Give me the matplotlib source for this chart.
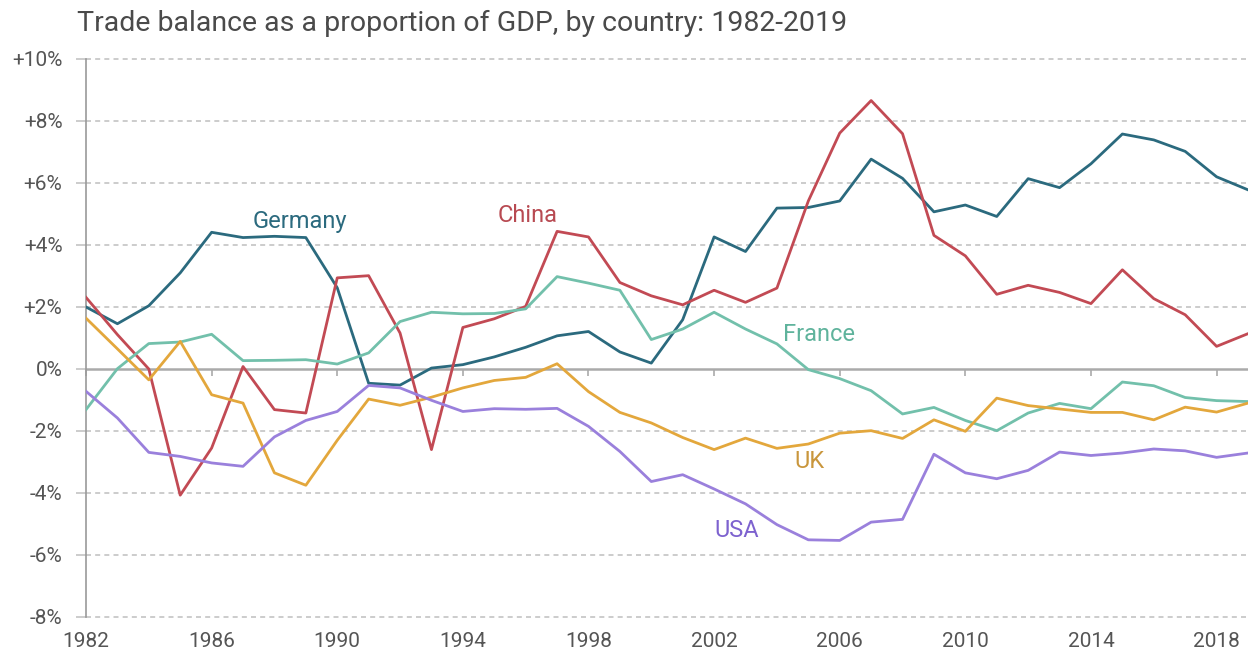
import matplotlib
matplotlib.use("Agg")
import matplotlib.pyplot as plt

years = list(range(1982, 2020))

germany = [2.0, 1.46, 2.04, 3.1, 4.41, 4.24, 4.28, 4.24, 2.62, -0.46,
           -0.52, 0.03, 0.14, 0.39, 0.70, 1.07, 1.21, 0.55, 0.19, 1.59,
           4.26, 3.79, 5.19, 5.21, 5.42, 6.77, 6.15, 5.07, 5.29, 4.92,
           6.14, 5.85, 6.62, 7.58, 7.39, 7.02, 6.20, 5.78]
china = [2.31, 1.11, 0.0, -4.07, -2.55, 0.08, -1.31, -1.42, 2.94, 3.01,
         1.16, -2.6, 1.34, 1.62, 2.02, 4.44, 4.26, 2.79, 2.36, 2.07,
         2.54, 2.15, 2.61, 5.42, 7.61, 8.66, 7.59, 4.31, 3.65, 2.41,
         2.70, 2.47, 2.11, 3.20, 2.27, 1.75, 0.73, 1.14]
france = [-1.31, 0.01, 0.82, 0.87, 1.12, 0.27, 0.28, 0.30, 0.16, 0.52,
          1.53, 1.83, 1.78, 1.79, 1.94, 2.98, 2.77, 2.54, 0.95, 1.29,
          1.83, 1.29, 0.81, -0.02, -0.31, -0.70, -1.45, -1.24, -1.66, -1.99,
          -1.42, -1.11, -1.28, -0.42, -0.54, -0.92, -1.02, -1.05]
uk = [1.64, 0.65, -0.35, 0.89, -0.83, -1.10, -3.35, -3.75, -2.30, -0.97,
      -1.17, -0.91, -0.61, -0.37, -0.27, 0.17, -0.73, -1.40, -1.74, -2.21,
      -2.60, -2.23, -2.56, -2.42, -2.07, -1.99, -2.24, -1.64, -2.01, -0.94,
      -1.18, -1.29, -1.40, -1.40, -1.64, -1.23, -1.39, -1.10]
usa = [-0.72, -1.58, -2.69, -2.82, -3.03, -3.14, -2.19, -1.66, -1.37, -0.53,
       -0.61, -1.01, -1.37, -1.28, -1.30, -1.27, -1.85, -2.66, -3.63, -3.41,
       -3.87, -4.35, -5.02, -5.51, -5.53, -4.94, -4.85, -2.75, -3.35, -3.54,
       -3.27, -2.68, -2.79, -2.71, -2.58, -2.64, -2.85, -2.71]

y_ticks = [-8, -6, -4, -2, 0, 2, 4, 6, 8, 10]
x_ticks = [1982, 1986, 1990, 1994, 1998, 2002, 2006, 2010, 2014, 2018]


def main() -> None:
    plt.rcParams['font.family'] = ['Roboto', 'DejaVu Sans']

    fig = plt.figure(figsize=(12.49, 6.57), dpi=100)
    W, H = 1249, 657
    ax = fig.add_axes([86 / W, (H - 617) / H, (1248 - 86) / W, (617 - 59) / H])

    series = [
        (germany, '#2b6a7e', 'Germany', 1987.3, 4.76, '#2b6a7e'),
        (china, '#c24a54', 'China', 1995.1, 4.95, '#b84a52'),
        (france, '#72c0ab', 'France', 2004.2, 1.1, '#5fb39c'),
        (uk, '#e3a73c', 'UK', 2004.55, -2.97, '#c9963c'),
        (usa, '#9a80dc', 'USA', 2002.0, -5.22, '#7d62cf'),
    ]
    for vals, color, name, lx, ly, lc in series:
        ax.plot(years, vals, color=color, linewidth=2, zorder=3)
        ax.text(lx, ly, name, color=lc, fontsize=17, ha='left', va='center')

    ax.set_xlim(1982, 2019)
    ax.set_ylim(-8, 10)

    # dashed grid
    for yv in y_ticks:
        if yv != 0:
            ax.axhline(yv, color='#c4c4c4', linestyle=(0, (3, 2.5)), linewidth=1.2,
                       zorder=1, clip_on=False)
    ax.axhline(0, color='#aaaaaa', linewidth=1.8, zorder=2)

    ax.set_yticks(y_ticks)
    ax.set_yticklabels([('+%d%%' % v) if v > 0 else ('%d%%' % v) for v in y_ticks])
    ax.tick_params(axis='y', length=7, width=1.2, color='#c4c4c4',
                   labelsize=15, labelcolor='#555555', pad=10)

    # ticks sit on the zero line, labels at the bottom
    ax.spines['bottom'].set_position(('data', 0))
    ax.spines['bottom'].set_visible(False)
    ax.set_xticks(x_ticks)
    ax.tick_params(axis='x', length=5, width=1.2, color='#aaaaaa',
                   labelbottom=False, direction='out')
    sec = ax.secondary_xaxis('bottom')
    sec.set_xticks(x_ticks)
    sec.tick_params(axis='x', length=0, labelsize=15, labelcolor='#555555', pad=11)
    sec.spines['bottom'].set_visible(False)

    for s in ['top', 'right']:
        ax.spines[s].set_visible(False)
    ax.spines['left'].set_color('#999999')
    ax.spines['left'].set_linewidth(1.2)

    fig.text(77 / W, 1 - 23 / H, 'Trade balance as a proportion of GDP, by country: 1982-2019',
             fontsize=20.5, color='#4a4a4a', ha='left', va='center')

    fig.savefig('out.png', dpi=100)


if __name__ == '__main__':
    main()
